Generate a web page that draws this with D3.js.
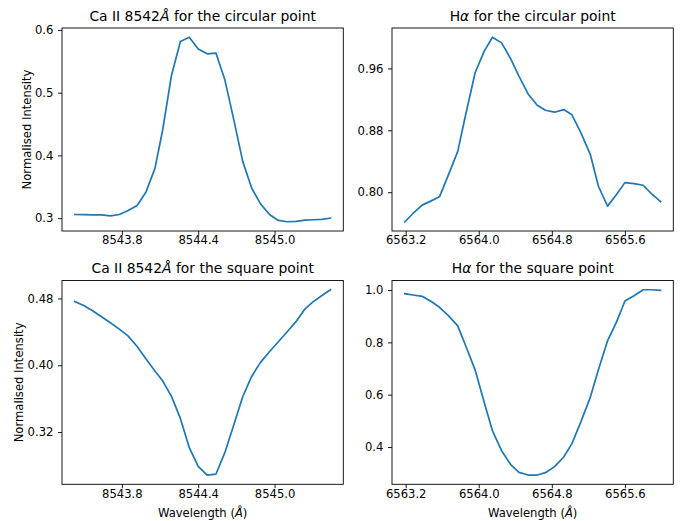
<!DOCTYPE html>
<html>
<head>
<meta charset="utf-8">
<script src="https://cdn.jsdelivr.net/npm/d3@7"></script>
<style>
  html, body { margin: 0; padding: 0; background: #fff; }
  svg { display: block; font-family: "DejaVu Sans", sans-serif; }
</style>
</head>
<body>
<svg id="chart" width="688" height="521"></svg>
<script>
// ---------------- DATA ----------------
const caWavelength = [8543.43, 8543.50, 8543.57, 8543.64, 8543.71, 8543.78, 8543.85, 8543.92, 8543.99, 8544.06,
                      8544.12, 8544.19, 8544.26, 8544.33, 8544.40, 8544.47, 8544.54, 8544.61, 8544.68, 8544.75,
                      8544.82, 8544.89, 8544.96, 8545.03, 8545.10, 8545.17, 8545.24, 8545.30, 8545.37, 8545.44];
const haWavelength = [6563.19, 6563.28, 6563.38, 6563.48, 6563.57, 6563.67, 6563.77, 6563.86, 6563.96, 6564.06,
                      6564.15, 6564.25, 6564.35, 6564.44, 6564.54, 6564.64, 6564.73, 6564.83, 6564.93, 6565.02,
                      6565.12, 6565.22, 6565.31, 6565.41, 6565.51, 6565.60, 6565.70, 6565.80, 6565.89, 6565.99];

const caCircular = [0.3058, 0.3056, 0.3053, 0.3053, 0.3037, 0.3058, 0.3122, 0.3201, 0.3418, 0.3794,
                    0.4397, 0.5275, 0.5815, 0.5884, 0.5698, 0.5619, 0.5630, 0.5201, 0.4566, 0.3905,
                    0.3481, 0.3228, 0.3058, 0.2963, 0.2942, 0.2947, 0.2968, 0.2974, 0.2979, 0.3000];
const haCircular = [0.7618, 0.7725, 0.7833, 0.7888, 0.7940, 0.8231, 0.8528, 0.9021, 0.9544, 0.9823,
                    1.0003, 0.9930, 0.9724, 0.9501, 0.9270, 0.9124, 0.9059, 0.9034, 0.9068, 0.9000,
                    0.8763, 0.8493, 0.8077, 0.7820, 0.7974, 0.8124, 0.8111, 0.8090, 0.7983, 0.7880];
const caSquare = [0.4764, 0.4716, 0.4652, 0.4581, 0.4509, 0.4433, 0.4349, 0.4225, 0.4074, 0.3930,
                  0.3814, 0.3627, 0.3363, 0.3012, 0.2789, 0.2685, 0.2697, 0.2956, 0.3288, 0.3623,
                  0.3866, 0.4034, 0.4162, 0.4281, 0.4401, 0.4525, 0.4676, 0.4756, 0.4832, 0.4904];
const haSquare = [0.986, 0.981, 0.976, 0.956, 0.934, 0.901, 0.863, 0.784, 0.695, 0.570,
                  0.462, 0.386, 0.333, 0.303, 0.293, 0.293, 0.302, 0.325, 0.362, 0.413,
                  0.498, 0.589, 0.695, 0.806, 0.879, 0.958, 0.978, 1.001, 1.001, 0.999];

const caXTicks = [8543.8, 8544.4, 8545.0];
const haXTicks = [6563.2, 6564.0, 6564.8, 6565.6];
const caCircularYTicks = [0.3, 0.4, 0.5, 0.6];
const haCircularYTicks = [0.80, 0.88, 0.96];
const caSquareYTicks = [0.32, 0.40, 0.48];
const haSquareYTicks = [0.4, 0.6, 0.8, 1.0];

const titles = [
  [{t: "Ca II 8542"}, {t: "Å", it: true}, {t: " for the circular point"}],
  [{t: "H"}, {t: "α", it: true}, {t: " for the circular point"}],
  [{t: "Ca II 8542"}, {t: "Å", it: true}, {t: " for the square point"}],
  [{t: "H"}, {t: "α", it: true}, {t: " for the square point"}]
];

// ---------------- LAYOUT ----------------
const svg = d3.select("#chart");
const lineColor = "#1f77b4";
const tickFont = 11.6, titleFont = 13.9;

const panels = [
  {x: caWavelength, y: caCircular, xt: caXTicks, yt: caCircularYTicks, yf: d3.format(".1f"), xf: d3.format(".1f"),
   left: 62, right: 343.3, top: 28, bottom: 231, title: titles[0], ylabel: 30.6, xlabel: false},
  {x: haWavelength, y: haCircular, xt: haXTicks, yt: haCircularYTicks, yf: d3.format(".2f"), xf: d3.format(".1f"),
   left: 392, right: 673.3, top: 28, bottom: 231, title: titles[1], ylabel: null, xlabel: false},
  {x: caWavelength, y: caSquare, xt: caXTicks, yt: caSquareYTicks, yf: d3.format(".2f"), xf: d3.format(".1f"),
   left: 62, right: 343.3, top: 280.5, bottom: 484.3, title: titles[2], ylabel: 23.4, xlabel: true},
  {x: haWavelength, y: haSquare, xt: haXTicks, yt: haSquareYTicks, yf: d3.format(".1f"), xf: d3.format(".1f"),
   left: 392, right: 673.3, top: 280.5, bottom: 484.3, title: titles[3], ylabel: null, xlabel: true}
];

function padded(arr) {
  const [a, b] = d3.extent(arr);
  const m = (b - a) * 0.05;
  return [a - m, b + m];
}

panels.forEach(p => {
  const xs = d3.scaleLinear().domain(padded(p.x)).range([p.left, p.right]);
  const ys = d3.scaleLinear().domain(padded(p.y)).range([p.bottom, p.top]);
  const g = svg.append("g");

  // line
  const line = d3.line().x((d, i) => xs(p.x[i])).y(d => ys(d));
  g.append("path").datum(p.y)
    .attr("d", line)
    .attr("fill", "none")
    .attr("stroke", lineColor)
    .attr("stroke-width", 1.7)
    .attr("stroke-linejoin", "round")
    .attr("stroke-linecap", "square");

  // x axis
  const xa = g.append("g").attr("transform", `translate(0,${p.bottom})`)
    .call(d3.axisBottom(xs).tickValues(p.xt).tickFormat(p.xf).tickSizeOuter(0).tickSize(4).tickPadding(1.2));
  xa.select(".domain").remove();
  xa.selectAll("line").attr("stroke", "#000").attr("stroke-width", 0.9);
  xa.selectAll("text").attr("font-size", tickFont).attr("fill", "#000").attr("font-family", "DejaVu Sans");

  // y axis
  const ya = g.append("g").attr("transform", `translate(${p.left},0)`)
    .call(d3.axisLeft(ys).tickValues(p.yt).tickFormat(p.yf).tickSizeOuter(0).tickSize(4).tickPadding(4.6));
  ya.select(".domain").remove();
  ya.selectAll("line").attr("stroke", "#000").attr("stroke-width", 0.9);
  ya.selectAll("text").attr("font-size", tickFont).attr("fill", "#000").attr("font-family", "DejaVu Sans");

  // frame
  g.append("rect")
    .attr("x", p.left).attr("y", p.top)
    .attr("width", p.right - p.left).attr("height", p.bottom - p.top)
    .attr("fill", "none").attr("stroke", "#000").attr("stroke-width", 0.9);

  // title
  const t = g.append("text")
    .attr("x", (p.left + p.right) / 2)
    .attr("y", p.top - 7.3)
    .attr("text-anchor", "middle")
    .attr("font-size", titleFont)
    .attr("fill", "#000");
  p.title.forEach(s => {
    const ts = t.append("tspan").text(s.t);
    if (s.it) ts.attr("font-style", "italic");
  });

  // y label
  if (p.ylabel !== null) {
    g.append("text")
      .attr("transform", `translate(${p.ylabel},${(p.top + p.bottom) / 2}) rotate(-90)`)
      .attr("text-anchor", "middle")
      .attr("font-size", tickFont)
      .attr("fill", "#000")
      .text("Normalised Intensity");
  }

  // x label
  if (p.xlabel) {
    const xl = g.append("text")
      .attr("x", (p.left + p.right) / 2)
      .attr("y", 516.5)
      .attr("text-anchor", "middle")
      .attr("font-size", tickFont)
      .attr("fill", "#000");
    xl.append("tspan").text("Wavelength (");
    xl.append("tspan").attr("font-style", "italic").text("Å");
    xl.append("tspan").text(")");
  }
});
</script>
</body>
</html>
